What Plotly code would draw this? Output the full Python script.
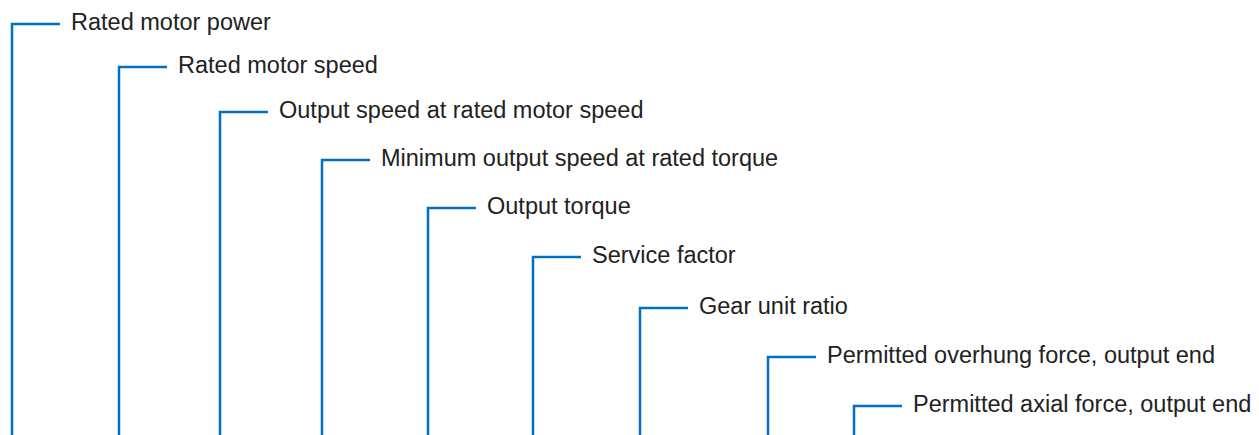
import plotly.graph_objects as go

labels = [
    "Rated motor power",
    "Rated motor speed",
    "Output speed at rated motor speed",
    "Minimum output speed at rated torque",
    "Output torque",
    "Service factor",
    "Gear unit ratio",
    "Permitted overhung force, output end",
    "Permitted axial force, output end",
]
stem_x = [12, 119, 220, 322, 428, 533, 640, 768, 854]
row_y = [24, 67, 112, 160, 208, 257, 308, 357, 406]

W, H = 1259, 435
OFF = 8  # default page body margin
arm = 48
gap = 11
bottom = H + 10

xs, ys = [], []
for x, y in zip(stem_x, row_y):
    xs += [x, x, x + arm, None]
    ys += [bottom, y, y, None]

fig = go.Figure()
fig.add_trace(go.Scatter(
    x=xs, y=ys, mode="lines",
    line=dict(color="#0070C0", width=2.5),
    hoverinfo="skip", showlegend=False,
))
fig.add_trace(go.Scatter(
    x=[x + arm + gap for x in stem_x], y=row_y, mode="text",
    text=labels, textposition="middle right",
    textfont=dict(family="Liberation Sans, Arial, sans-serif", size=23.5, color="#222222"),
    hoverinfo="skip", showlegend=False,
))
fig.update_layout(
    width=W - OFF, height=H - OFF,
    margin=dict(l=0, r=0, t=0, b=0),
    paper_bgcolor="white", plot_bgcolor="white",
    xaxis=dict(range=[OFF, W], visible=False, fixedrange=True),
    yaxis=dict(range=[H, OFF], visible=False, fixedrange=True),
)
fig.write_html("out.html", config={"displayModeBar": False})
